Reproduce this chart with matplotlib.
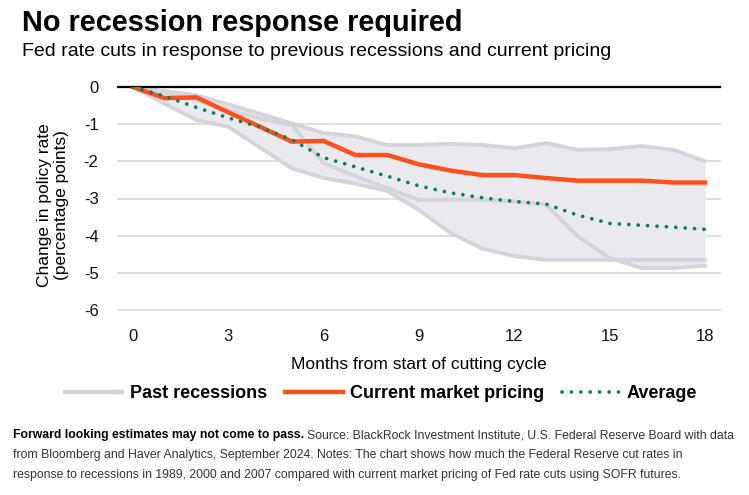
import matplotlib
matplotlib.use("Agg")
import matplotlib.pyplot as plt
from matplotlib.lines import Line2D
import numpy as np

# months from start of cutting cycle
months = list(range(19))

# past recessions (three cycles), percentage points
rec_a = [0, -0.11, -0.22, -0.47, -0.72, -0.98, -1.24, -1.33, -1.56, -1.56,
         -1.53, -1.56, -1.65, -1.51, -1.69, -1.67, -1.59, -1.69, -2.00]
rec_b = [0, -0.45, -0.89, -1.07, -1.63, -2.19, -2.45, -2.60, -2.80, -3.31,
         -3.93, -4.35, -4.55, -4.65, -4.65, -4.65, -4.65, -4.65, -4.65]
rec_c = [0, -0.15, -0.35, -0.62, -0.85, -1.02, -2.05, -2.40, -2.72, -3.04,
         -3.03, -3.03, -3.08, -3.17, -4.02, -4.60, -4.87, -4.87, -4.81]

current = [0, -0.30, -0.28, -0.68, -1.07, -1.47, -1.45, -1.83, -1.83, -2.08,
           -2.25, -2.37, -2.37, -2.45, -2.52, -2.52, -2.52, -2.57, -2.57]
average = [0, -0.25, -0.55, -0.83, -1.08, -1.42, -1.90, -2.15, -2.40, -2.66,
           -2.85, -2.98, -3.08, -3.15, -3.45, -3.67, -3.72, -3.77, -3.83]

xticks = [0, 3, 6, 9, 12, 15, 18]
yticks = [0, -1, -2, -3, -4, -5, -6]

GRAY_LINE = "#d4d4da"
GRAY_FILL = "#e9e9ee"
ORANGE = "#ff4f1a"
GREEN = "#0b7f5a"

plt.rcParams["font.family"] = ["Liberation Sans", "DejaVu Sans"]

fig = plt.figure(figsize=(7.49, 4.95), dpi=100)
ax = fig.add_axes([118 / 749, 1 - 310 / 495, (720 - 118) / 749, (310 - 87) / 495])

recs = np.array([rec_a, rec_b, rec_c])
ax.fill_between(months, recs.min(axis=0), recs.max(axis=0), color=GRAY_FILL, lw=0, zorder=1)
for r in recs:
    ax.plot(months, r, color=GRAY_LINE, lw=2.8, solid_joinstyle="round", zorder=2)

ax.plot(months, current, color=ORANGE, lw=3.2, solid_joinstyle="round", zorder=4)
ax.plot(months, average, color=GREEN, lw=2.7, linestyle=(0, (0.01, 2.5)),
        dash_capstyle="round", zorder=5)

ax.set_xlim(-0.47, 18.47)
ax.set_ylim(-6, 0)
ax.set_xticks(xticks)
ax.set_yticks(yticks)
ax.set_yticklabels([str(v) for v in yticks])
for y in yticks[1:]:
    ax.axhline(y, color="#dcdcdc", lw=1.3, zorder=0, clip_on=False)
ax.axhline(0, color="black", lw=1.6, zorder=3, clip_on=False)
for s in ax.spines.values():
    s.set_visible(False)
ax.tick_params(length=0, labelsize=12, colors="#111111")
ax.tick_params(axis="y", pad=14)
ax.tick_params(axis="x", pad=14)

ax.set_xlabel("Months from start of cutting cycle", fontsize=12.5, labelpad=9)
fig.text(53 / 749, 1 - 205 / 495, "Change in policy rate\n(percentage points)",
         rotation=90, ha="center", va="center", fontsize=12.5, linespacing=1.1)

fig.text(22 / 749, 1 - 23 / 495, "No recession response required",
         fontsize=20.8, fontweight="bold", va="center", ha="left")
fig.text(22 / 749, 1 - 51 / 495, "Fed rate cuts in response to previous recessions and current pricing",
         fontsize=14, va="center", ha="left")

handles = [Line2D([], [], color=GRAY_LINE, lw=3.2),
           Line2D([], [], color=ORANGE, lw=3.2),
           Line2D([], [], color=GREEN, lw=2.7, linestyle=(0, (0.01, 2.5)), dash_capstyle="round")]
fig.legend(handles, ["Past recessions", "Current market pricing", "Average"],
           loc="center", bbox_to_anchor=(381 / 749, 1 - 394 / 495), ncol=3, frameon=False,
           prop={"weight": "bold", "size": 13}, handlelength=3.2, handletextpad=0.4,
           columnspacing=1.0)

# footnote: shrink font until the longest line fits the reference width
bold_part = "Forward looking estimates may not come to pass."
line1 = "Source: BlackRock Investment Institute, U.S. Federal Reserve Board with data"
line2 = ("from Bloomberg and Haver Analytics, September 2024. Notes: The chart shows how much "
         "the Federal Reserve cut rates in")
line3 = ("response to recessions in 1989, 2000 and 2007 compared with current market pricing "
         "of Fed rate cuts using SOFR futures.")
foot_size = 9.3
x0 = 13
for _ in range(10):
    for t in list(fig.texts):
        if getattr(t, "_foot", False):
            t.remove()
    tb = fig.text(x0 / 749, 1 - 435 / 495, bold_part, fontsize=foot_size,
                  fontweight="bold", va="center", ha="left")
    tb._foot = True
    fig.canvas.draw()
    bx = tb.get_window_extent().x1 + 3
    t1 = fig.text(bx / 749, 1 - 435 / 495, line1, fontsize=foot_size,
                  va="center", ha="left", color="#333333")
    t2 = fig.text(x0 / 749, 1 - 455 / 495, line2, fontsize=foot_size,
                  va="center", ha="left", color="#333333")
    t3 = fig.text(x0 / 749, 1 - 475 / 495, line3, fontsize=foot_size,
                  va="center", ha="left", color="#333333")
    for t in (t1, t2, t3):
        t._foot = True
    fig.canvas.draw()
    right = max(t.get_window_extent().x1 for t in (t1, t2, t3))
    if right <= 741:
        break
    foot_size *= 738 / right

fig.savefig("out.png", dpi=100)
